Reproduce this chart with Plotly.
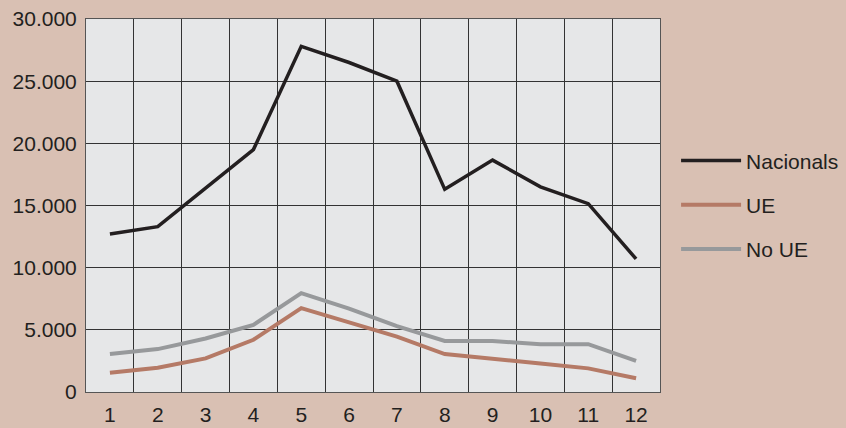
import plotly.graph_objects as go

months = list(range(1, 13))
nacionals = [12700, 13300, 16400, 19500, 27800, 26500, 25000, 16300, 18650, 16500, 15150, 10700]
ue = [1550, 1950, 2700, 4200, 6750, 5600, 4450, 3050, 2700, 2300, 1900, 1100]
no_ue = [3050, 3450, 4300, 5400, 7950, 6700, 5300, 4100, 4100, 3850, 3850, 2500]
y_ticks = [0, 5000, 10000, 15000, 20000, 25000, 30000]

font = "Liberation Sans, Arial, sans-serif"
fig = go.Figure()
fig.add_trace(go.Scatter(x=months, y=nacionals, name="Nacionals", mode="lines", legendgroup="a",
                         line=dict(color="#231F20", width=3.5)))
fig.add_trace(go.Scatter(x=months, y=ue, name="UE", mode="lines", legendgroup="b",
                         line=dict(color="#B57A66", width=4)))
fig.add_trace(go.Scatter(x=months, y=no_ue, name="No UE", mode="lines", legendgroup="c",
                         line=dict(color="#97999B", width=4)))

fig.update_layout(
    width=846, height=428,
    margin=dict(l=86, r=186, t=19, b=36, autoexpand=False),
    paper_bgcolor="#D9C0B3", plot_bgcolor="#E6E7E8",
    separators=",.",
    font=dict(family=font, size=21, color="#231F20"),
    showlegend=True,
    legend=dict(x=1.028, y=0.675, xanchor="left", yanchor="top",
                bgcolor="rgba(0,0,0,0)", font=dict(size=21),
                tracegroupgap=14, itemwidth=60),
)
fig.update_xaxes(range=[0.5, 12.5], tickvals=months, showgrid=False, automargin=False,
                 ticks="", zeroline=False, showline=True, linecolor="#555", mirror=True,
                 minor=dict(tick0=0.5, dtick=1, showgrid=True, gridcolor="#333", gridwidth=1),
                 ticklabelstandoff=4, tickfont=dict(size=21))
fig.update_yaxes(range=[0, 30000], tickvals=y_ticks, tickformat=",d", showgrid=True,
                 automargin=False,
                 gridcolor="#333", gridwidth=1, zeroline=False, showline=True,
                 linecolor="#555", mirror=True, ticks="", ticklabelstandoff=4,
                 tickfont=dict(size=21))
fig.write_html("out.html", config={"displayModeBar": False},
               post_script="document.body.style.margin='0';")
